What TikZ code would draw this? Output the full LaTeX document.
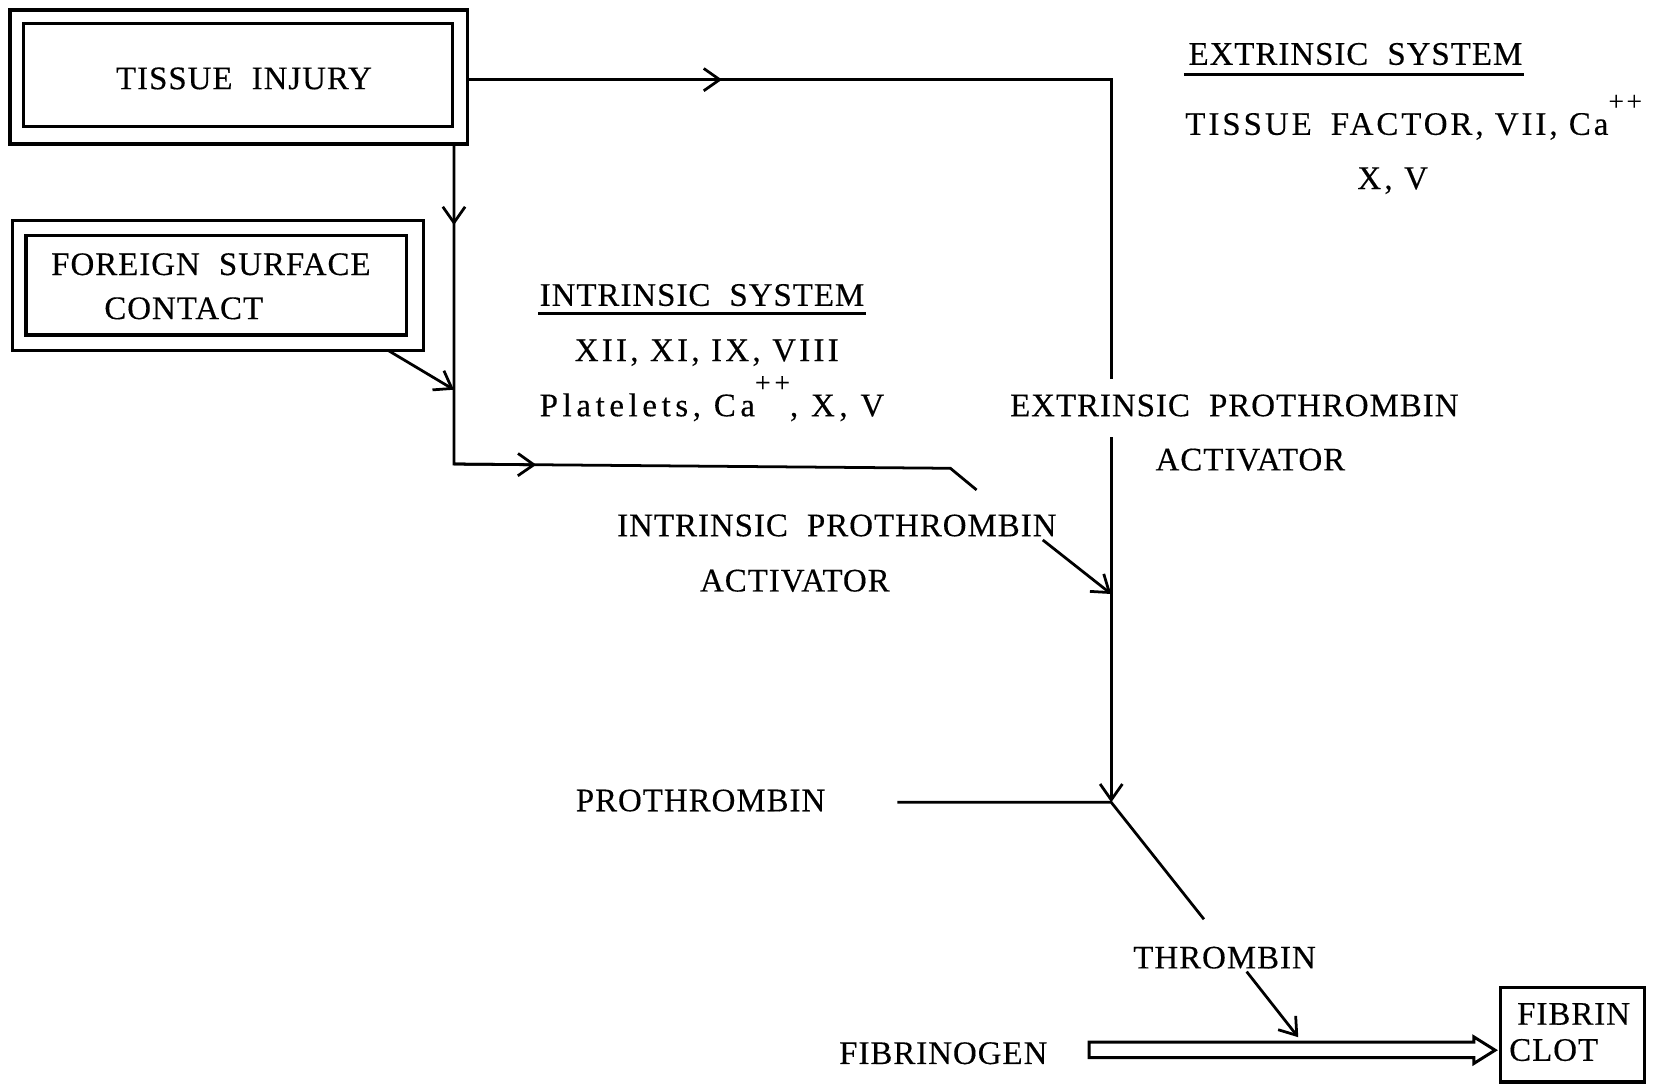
\documentclass[tikz,border=0pt]{standalone}
\usepackage{fontspec}
\setmainfont{Liberation Serif}[LetterSpace=3, FakeBold=0.3]
\usetikzlibrary{arrows.meta,calc}
\newcommand{\wgap}{\hspace{9pt}}
\newcommand{\plusplus}{\raisebox{11.5pt}{\fontsize{13}{13}\selectfont ++}}
\newcommand{\wide}{\addfontfeature{LetterSpace=10}}
\begin{document}
\begin{tikzpicture}[x=0.5pt,y=-0.5pt, line width=1.3pt,
  every node/.style={font=\fontsize{15.5}{18}\selectfont, inner sep=0pt},
  lbl/.style={anchor=base west},
  box/.style={draw, line width=1.5pt, inner sep=0pt},
  tip/.style={-{Straight Barb[length=7.5pt,width=10.5pt,line width=1.3pt]}}]
\useasboundingbox (0,0) rectangle (1568,1020);

% boxes
\node[box, minimum width=215.3pt, minimum height=63.1pt] (tiO) at (224.7,72.5) {};
\node[box, minimum width=202pt, minimum height=48.5pt] (tiI) at (224,70.5) {};
\node[lbl] (tiT) at (108,84) {TISSUE\wgap INJURY};

\node[box, minimum width=193.7pt, minimum height=61pt] (fsO) at (205.3,269) {};
\node[box, minimum width=179.25pt, minimum height=46.75pt] (fsI) at (203.75,268.75) {};
\node[lbl] (fsT1) at (47,259) {FOREIGN\wgap SURFACE};
\node[lbl] (fsT2) at (97,300.5) {CONTACT};

% intrinsic texts
\node[lbl] (isH) at (507,288) {INTRINSIC\wgap SYSTEM};
\draw ([yshift=-3.5pt]isH.base west) -- ([yshift=-3.5pt]isH.base east);
\node[lbl] (is1) at (540,340) {\wide XII, XI, IX, VIII};
\node[lbl] (is2) at (507,392) {\addfontfeature{LetterSpace=14}Platelets, Ca\plusplus, X, V};
\node[lbl] (ipa1) at (580,505) {INTRINSIC\wgap PROTHROMBIN};
\node[lbl] (ipa2) at (658,557) {ACTIVATOR};

% extrinsic texts
\node[lbl] (esH) at (1118,61) {EXTRINSIC\wgap SYSTEM};
\draw ([yshift=-4.5pt,xshift=-1.5pt]esH.base west) -- ([yshift=-4.5pt]esH.base east);
\node[lbl] (es1) at (1115,127) {\addfontfeature{LetterSpace=9}TISSUE\wgap FACTOR, VII, Ca\plusplus};
\node[lbl] (es2) at (1277,178) {\wide X, V};
\node[lbl] (epa1) at (950,392) {EXTRINSIC\wgap PROTHROMBIN};
\node[lbl] (epa2) at (1087,443) {ACTIVATOR};

% lower texts
\node[lbl] (pro) at (541,764) {PROTHROMBIN};
\node[lbl] (thr) at (1066,912) {THROMBIN};
\node[lbl] (fbg) at (789,1002) {FIBRINOGEN};

\node[box, minimum width=68pt, minimum height=44.5pt] (fc) at (1481,974.5) {};
\node[lbl] (fc1) at (1427.5,965) {FIBRIN};
\node[lbl] (fc2) at (1420,999) {CLOT};

% coordinates
\coordinate (a1) at (440,75);
\coordinate (m1) at (680,75);
\coordinate (k1) at (1046.5,75);
\coordinate (k1b) at (1046.5,357);
\coordinate (b0) at (427.5,135.6);
\coordinate (m2) at (427.5,212);
\coordinate (b1) at (427.5,437);
\coordinate (m3) at (505,437.7);
\coordinate (b2) at (895,441);
\coordinate (b3) at (919.7,461.4);
\coordinate (f0) at (365.5,330);
\coordinate (f1) at (427.5,367);
\coordinate (g0) at (982,508.5);
\coordinate (g1) at (1046.5,559.4);
\coordinate (h0) at (1046.5,412);
\coordinate (h1) at (1046.5,755.6);
\coordinate (p0) at (845,755.6);
\coordinate (p2) at (1133.8,865.7);
\coordinate (t0) at (1174,915);
\coordinate (t1) at (1222.6,976.8);

% connectors
\draw (a1) -- (k1) -- (k1b);
\draw[tip] (a1) -- (m1);
\draw (b0) -- (b1) -- (b2) -- (b3);
\draw[tip] (b0) -- (m2);
\draw[tip] (b1) -- (m3);
\draw[tip] (f0) -- (f1);
\draw[tip] (g0) -- (g1);
\draw[tip] (h0) -- (h1);
\draw (p0) -- (h1) -- (p2);
\draw[tip] (t0) -- (t1);

% hollow arrow fibrinogen -> fibrin clot
\draw[line width=1.4pt, line join=miter] (1025.6,981.5) -- (1388,981.5) -- (1388,976.5) -- (1408,989) -- (1388,1001.5) -- (1388,996) -- (1025.6,996) -- cycle;
\end{tikzpicture}
\end{document}
